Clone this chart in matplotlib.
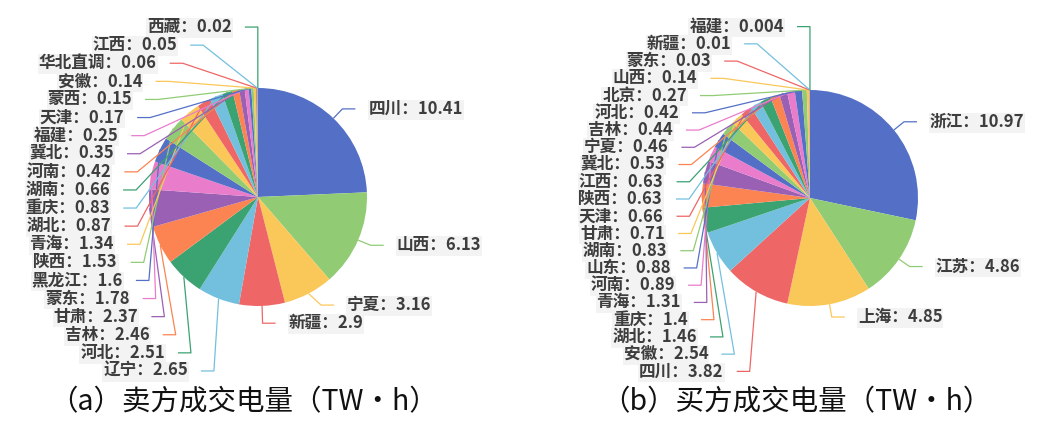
import numpy as np
import matplotlib.pyplot as plt

plt.rcParams['font.family'] = ['Noto Sans CJK SC', 'DejaVu Sans']

# seller side (a)
seller_names = ["四川", "山西", "宁夏", "新疆", "辽宁", "河北", "吉林", "甘肃", "蒙东",
                "黑龙江", "陕西", "青海", "湖北", "重庆", "湖南", "河南", "冀北", "福建",
                "天津", "蒙西", "安徽", "华北直调", "江西", "西藏"]
seller_values = [10.41, 6.13, 3.16, 2.9, 2.65, 2.51, 2.46, 2.37, 1.78,
                 1.6, 1.53, 1.34, 0.87, 0.83, 0.66, 0.42, 0.35, 0.25,
                 0.17, 0.15, 0.14, 0.06, 0.05, 0.02]

# buyer side (b)
buyer_names = ["浙江", "江苏", "上海", "四川", "安徽", "湖北", "重庆", "青海", "河南",
               "山东", "湖南", "甘肃", "天津", "陕西", "江西", "冀北", "宁夏", "吉林",
               "河北", "北京", "山西", "蒙东", "新疆", "福建"]
buyer_values = [10.97, 4.86, 4.85, 3.82, 2.54, 1.46, 1.4, 1.31, 0.89,
                0.88, 0.83, 0.71, 0.66, 0.63, 0.63, 0.53, 0.46, 0.44,
                0.42, 0.27, 0.14, 0.03, 0.01, 0.004]

captions = ["（a）卖方成交电量（TW·h）", "（b）买方成交电量（TW·h）"]

# echarts default colours
palette = ['#5470c6', '#91cc75', '#fac858', '#ee6666', '#73c0de',
           '#3ba272', '#fc8452', '#9a60b4', '#ea7ccc']

W, H = 1049, 434
LINE_LEN, LINE_LEN2, GAP = 13, 13, 13
LABEL_H = 18.1
VIEW_LO, VIEW_HI = 54, 416


def shift_layout(ys, h, lo, hi):
    # push overlapping labels apart inside [lo, hi]
    ys = np.asarray(ys, float)
    n = len(ys)
    if n == 0:
        return ys
    order = np.argsort(-ys)
    y = ys[order].copy()
    if n * h >= hi - lo:
        step = (hi - lo) / n
        y = hi - step / 2 - step * np.arange(n)
    else:
        y[0] = min(y[0], hi - h / 2)
        for i in range(1, n):
            y[i] = min(y[i], y[i - 1] - h)
        if y[-1] < lo + h / 2:
            y[-1] = lo + h / 2
            for i in range(n - 2, -1, -1):
                y[i] = max(y[i], y[i + 1] + h)
    out = np.empty(n)
    out[order] = y
    return out


def draw_pie(ax, names, values, cx, cy, r, caption, cap_x):
    colors = [palette[i % len(palette)] for i in range(len(values))]
    wedges, _ = ax.pie(values, colors=colors, startangle=90, counterclock=False,
                       center=(cx, cy), radius=r, wedgeprops=dict(linewidth=0))
    mids = np.array([np.deg2rad((w.theta1 + w.theta2) / 2) for w in wedges])
    rA = r + LINE_LEN
    dirs = np.where(np.cos(mids) >= 0, 1, -1)
    nat_x = rA * np.cos(mids)
    nat_y = cy + rA * np.sin(mids)

    label_y = np.empty(len(values))
    bend_dx = np.empty(len(values))
    for d in (1, -1):
        idx = np.where(dirs == d)[0]
        label_y[idx] = shift_layout(nat_y[idx], LABEL_H, VIEW_LO, VIEW_HI)
        # realign bend points on an ellipse (top / bottom halves separately)
        for top in (True, False):
            semi = [i for i in idx if (label_y[i] >= cy) == top]
            if not semi:
                continue
            far = max(semi, key=lambda i: abs(label_y[i] - cy))
            dy = abs(label_y[far] - cy)
            dx = abs(nat_x[far])
            rB = dy / np.sqrt(1 - dx * dx / rA / rA) if dx < rA else rA
            rB = max(rB, dy, 1e-6)
            for i in semi:
                dyi = abs(label_y[i] - cy)
                bend_dx[i] = np.sqrt(max(0.0, 1 - dyi * dyi / rB / rB)) * rA

    for i, (name, v) in enumerate(zip(names, values)):
        d = dirs[i]
        x0, y0 = cx + r * np.cos(mids[i]), cy + r * np.sin(mids[i])
        x1, y1 = cx + d * bend_dx[i], label_y[i]
        x2 = x1 + d * LINE_LEN2
        ax.plot([x0, x1, x2], [y0, y1, y1], color=colors[i], lw=0.9,
                solid_capstyle='butt', zorder=1)
        label = f"{name}：{v:g}"
        kw = dict(ha='left' if d > 0 else 'right', va='center', fontsize=12,
                  fontweight='bold')
        # faint band behind the label, kept under every label text
        ax.text(x2 + d * GAP, y1 - 1, label, color='none', zorder=2,
                bbox=dict(boxstyle='square,pad=0.05', fc='#f3f3f3', ec='none'),
                **kw)
        ax.text(x2 + d * GAP, y1, label, color='#3d3d3d', zorder=3, **kw)

    ax.text(cap_x, 32, caption, ha='center', va='center', fontsize=20.5,
            color='#111111')


fig = plt.figure(figsize=(W / 100, H / 100), dpi=100)
ax = fig.add_axes([0, 0, 1, 1])

draw_pie(ax, seller_names, seller_values, 258, 237, 109, captions[0], 244)
draw_pie(ax, buyer_names, buyer_values, 810, 236, 108, captions[1], 796)

ax.set_xlim(0, W)
ax.set_ylim(0, H)
ax.set_aspect('equal')
ax.axis('off')

fig.savefig("out.png", dpi=100, facecolor='white')
